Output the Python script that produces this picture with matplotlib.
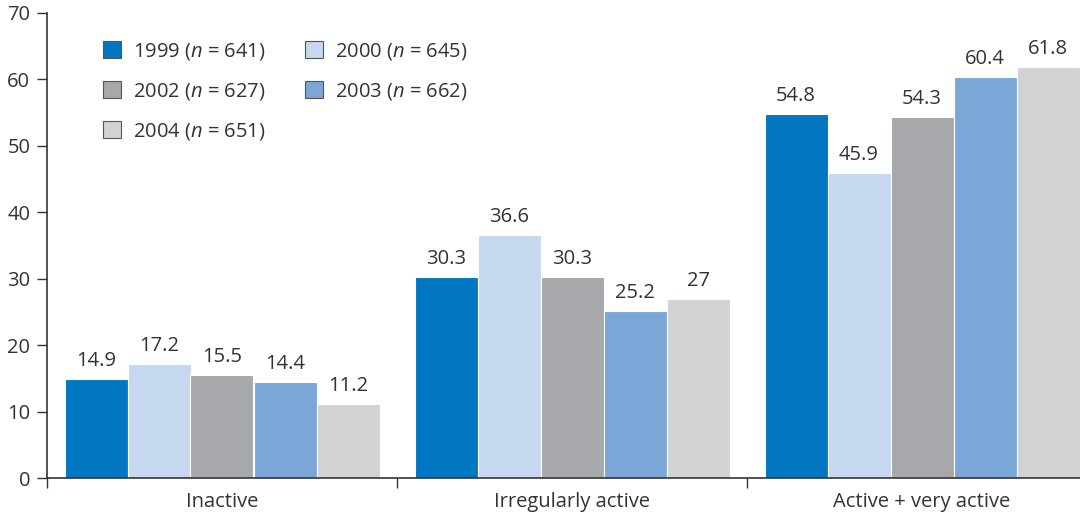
import matplotlib.pyplot as plt
from matplotlib.patches import Patch
import numpy as np

categories = ["Inactive", "Irregularly active", "Active + very active"]
years = ["1999", "2000", "2002", "2003", "2004"]
sizes = [641, 645, 627, 662, 651]
values = {
    "1999": [14.9, 30.3, 54.8],
    "2000": [17.2, 36.6, 45.9],
    "2002": [15.5, 30.3, 54.3],
    "2003": [14.4, 25.2, 60.4],
    "2004": [11.2, 27, 61.8],
}
colors = ["#0077c0", "#c5d8ef", "#a7a8ab", "#7aa7d8", "#d1d2d4"]

plt.rcParams["font.family"] = ["Open Sans", "DejaVu Sans"]
plt.rcParams["mathtext.fontset"] = "custom"
plt.rcParams["mathtext.it"] = "Open Sans:italic"
plt.rcParams["mathtext.rm"] = "Open Sans"

fig = plt.figure(figsize=(10.8, 5.15), dpi=100)
ax = fig.add_axes([47 / 1080, 37 / 515, 1050 / 1080, 465 / 515])

x = np.arange(len(categories))
w = 0.18
for i, (yr, c) in enumerate(zip(years, colors)):
    pos = x - 0.45 + w * (i + 0.5)
    bars = ax.bar(pos, values[yr], width=w, color=c, edgecolor="white", linewidth=0.8)
    for b, v in zip(bars, values[yr]):
        ax.text(b.get_x() + b.get_width() / 2, v + 1.2, f"{v:g}",
                ha="center", va="bottom", fontsize=14.5, color="#333333")

ax.set_xlim(-0.5, 2.5)
ax.set_ylim(0, 70)
ax.set_yticks(range(0, 71, 10))
ax.set_xticks([-0.5, 0.5, 1.5, 2.5])
ax.set_xticklabels([])
ax.set_xticks(x, minor=True)
ax.set_xticklabels(categories, minor=True)
ax.tick_params(axis="x", which="minor", length=0, pad=10, labelsize=14.5, colors="#333333")
ax.tick_params(axis="x", which="major", length=7, width=1, color="#333333")
ax.tick_params(axis="y", length=7, width=1, labelsize=14.5, colors="#333333", pad=5)
for s in ["top", "right"]:
    ax.spines[s].set_visible(False)
for s in ["left", "bottom"]:
    ax.spines[s].set_color("#333333")
    ax.spines[s].set_linewidth(1.2)

# legend fills row by row in the reference
order = [0, 2, 4, 1, 3]
handles = [Patch(facecolor=colors[k], edgecolor="#555555", linewidth=0.8) for k in order]
labels = [f"{years[k]} ($\\it{{n}}$ = {sizes[k]})" for k in order]
ax.legend(handles, labels, ncol=2, frameon=False, loc="upper left",
          bbox_to_anchor=(0.053, 0.94), borderaxespad=0, borderpad=0,
          fontsize=14.5, handlelength=0.9, handleheight=0.9, columnspacing=1.95,
          labelspacing=0.95, handletextpad=0.6, labelcolor="#333333")

fig.savefig("out.png", dpi=100)
